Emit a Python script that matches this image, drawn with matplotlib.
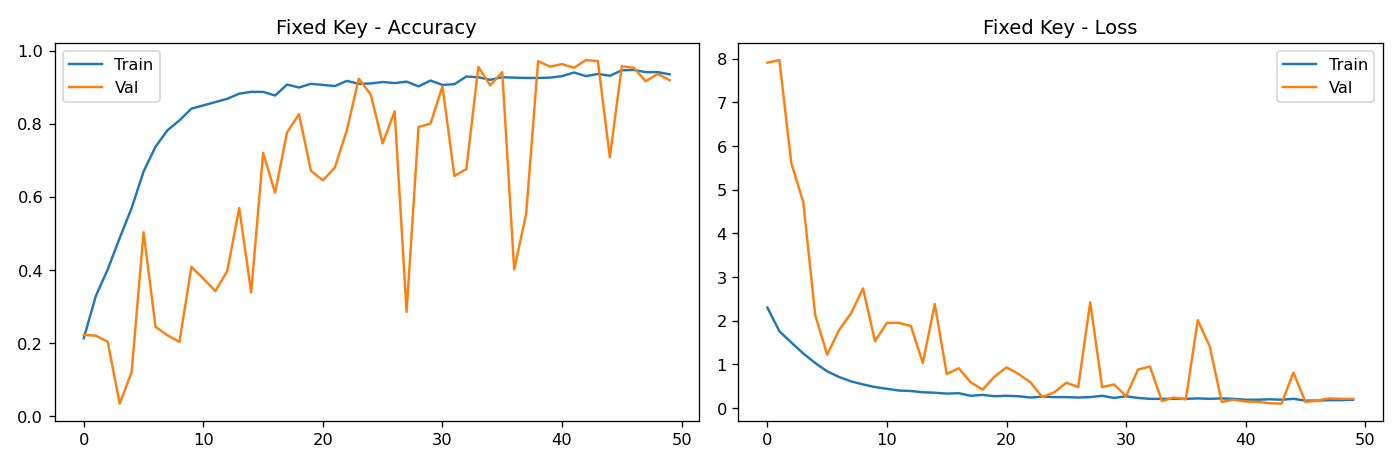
import matplotlib
matplotlib.use("Agg")
import matplotlib.pyplot as plt

epochs = list(range(50))

train_acc = [0.213, 0.328, 0.401, 0.487, 0.569, 0.669, 0.737, 0.782, 0.809, 0.841,
             0.850, 0.859, 0.868, 0.882, 0.887, 0.887, 0.877, 0.907, 0.899, 0.909,
             0.906, 0.903, 0.917, 0.909, 0.910, 0.914, 0.911, 0.915, 0.902, 0.918,
             0.906, 0.908, 0.929, 0.927, 0.920, 0.927, 0.926, 0.925, 0.925, 0.926,
             0.930, 0.940, 0.930, 0.936, 0.931, 0.946, 0.947, 0.941, 0.941, 0.935]
val_acc = [0.222, 0.220, 0.203, 0.034, 0.120, 0.503, 0.244, 0.221, 0.203, 0.408,
           0.376, 0.342, 0.397, 0.569, 0.338, 0.720, 0.611, 0.776, 0.826, 0.671,
           0.645, 0.680, 0.782, 0.923, 0.880, 0.746, 0.834, 0.285, 0.791, 0.800,
           0.902, 0.657, 0.676, 0.955, 0.905, 0.941, 0.401, 0.553, 0.971, 0.956,
           0.963, 0.953, 0.974, 0.971, 0.708, 0.957, 0.953, 0.916, 0.936, 0.919]

train_loss = [2.30, 1.76, 1.50, 1.25, 1.03, 0.84, 0.71, 0.61, 0.54, 0.48,
              0.44, 0.40, 0.39, 0.36, 0.35, 0.33, 0.34, 0.28, 0.30, 0.27,
              0.28, 0.27, 0.24, 0.26, 0.25, 0.25, 0.24, 0.25, 0.28, 0.23,
              0.27, 0.23, 0.21, 0.21, 0.21, 0.21, 0.22, 0.21, 0.22, 0.21,
              0.19, 0.19, 0.20, 0.19, 0.21, 0.17, 0.17, 0.18, 0.18, 0.19]
val_loss = [7.91, 7.97, 5.61, 4.72, 2.13, 1.22, 1.79, 2.17, 2.74, 1.53,
            1.95, 1.95, 1.88, 1.03, 2.38, 0.78, 0.91, 0.59, 0.42, 0.72,
            0.93, 0.78, 0.59, 0.25, 0.36, 0.58, 0.48, 2.42, 0.48, 0.54,
            0.27, 0.88, 0.95, 0.16, 0.24, 0.20, 2.01, 1.41, 0.14, 0.19,
            0.15, 0.14, 0.11, 0.10, 0.81, 0.14, 0.17, 0.22, 0.21, 0.21]

fig, (ax1, ax2) = plt.subplots(1, 2, figsize=(12, 4))

ax1.plot(epochs, train_acc, label="Train")
ax1.plot(epochs, val_acc, label="Val")
ax1.set_title("Fixed Key - Accuracy")
ax1.legend()

ax2.plot(epochs, train_loss, label="Train")
ax2.plot(epochs, val_loss, label="Val")
ax2.set_title("Fixed Key - Loss")
ax2.legend()

plt.tight_layout()
plt.savefig("out.png", dpi=1400 / 12)
